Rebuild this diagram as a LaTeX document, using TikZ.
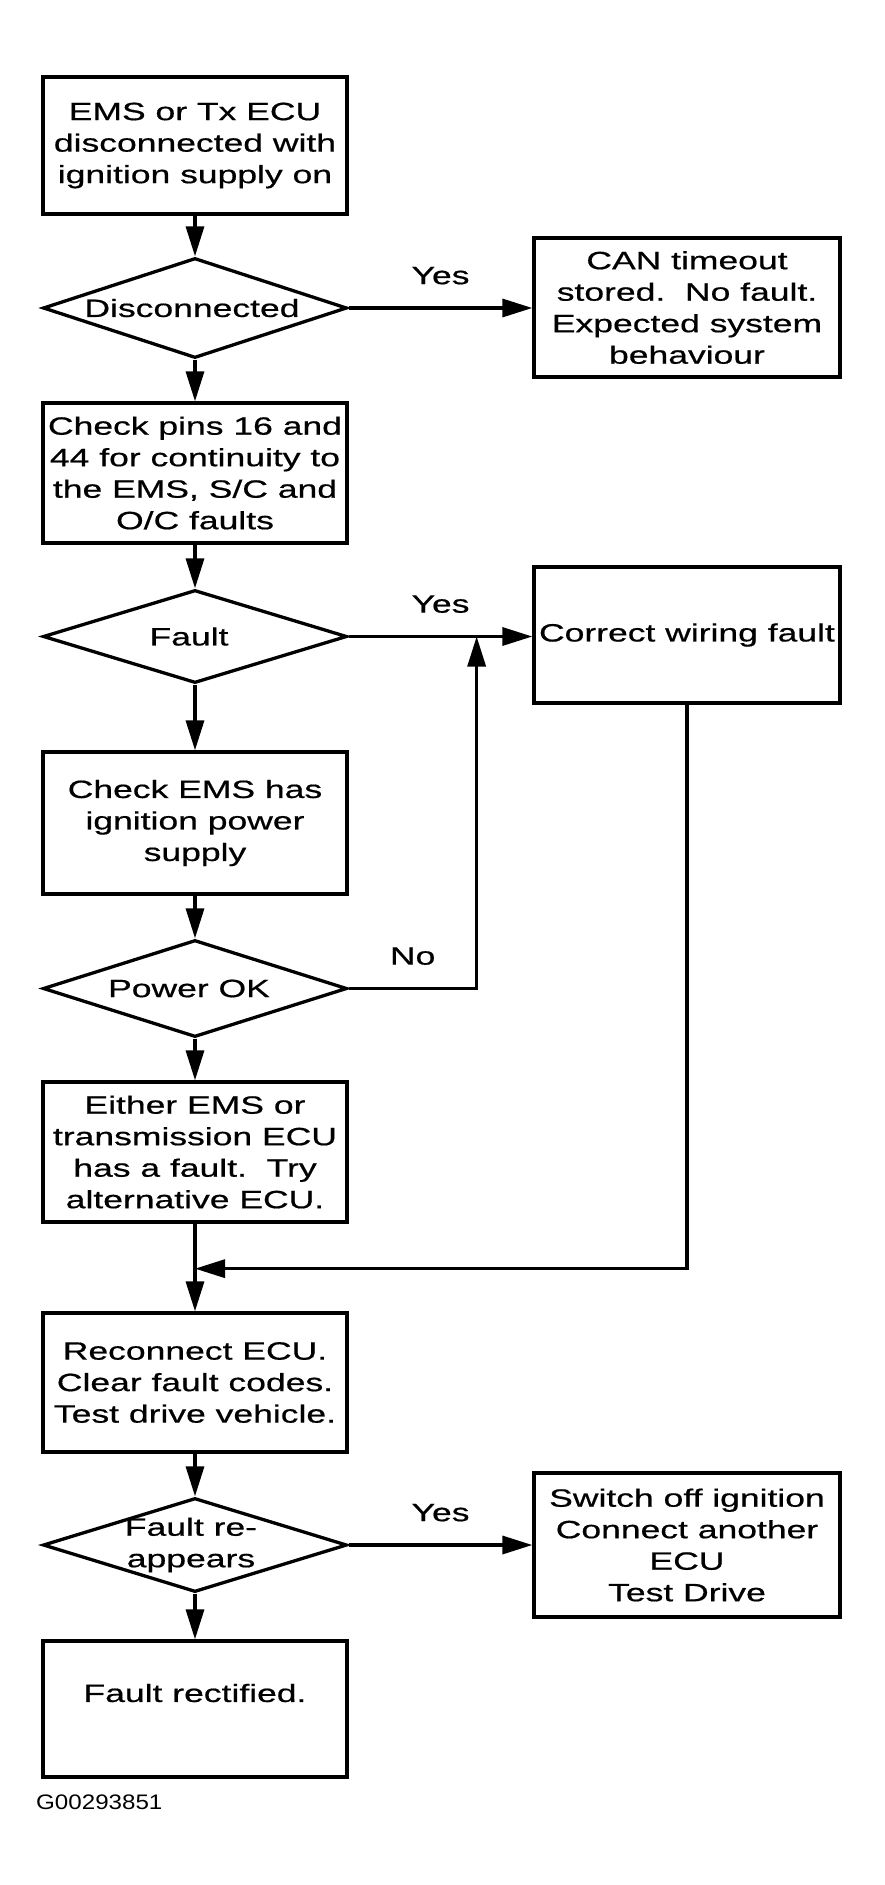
\documentclass[tikz,border=0pt]{standalone}
\usepackage{fontspec}
\setmainfont[FakeStretch=1.42,FakeBold=0.6]{Liberation Sans}
\newfontfamily\codefont[FakeStretch=1.15]{Liberation Sans}
\usetikzlibrary{arrows.meta,shapes.geometric,calc}
\tikzset{
  box/.style={draw, line width=3.3pt, minimum width=304pt, inner sep=1pt, align=center,
    font=\fontsize{25}{31.5}\selectfont},
  widebox/.style={box, minimum width=306pt},
  dia/.style={draw, diamond, line width=3.3pt, minimum width=304pt, inner sep=0pt},
  dtext/.style={align=center, inner sep=0pt, font=\fontsize{25}{31.5}\selectfont},
  lbl/.style={above=22pt, inner sep=0pt, font=\fontsize{25}{31.5}\selectfont},
  conn/.style={line width=3.3pt, -{Triangle[length=30pt,width=18pt]}},
}
\begin{document}
\begin{tikzpicture}[x=1pt,y=-1pt]
\useasboundingbox[fill=white] (0,0) rectangle (885,1885);

\node[box, minimum height=137pt] (b1) at (195,145.5) {EMS or Tx ECU\\disconnected with\\ignition supply on};
\node[dia, minimum height=100pt, label={[dtext,xshift=-3pt]center:Disconnected}] (d1) at (195,308) {};
\node[widebox, minimum height=139pt] (b2) at (687,307.5) {CAN timeout\\stored.\ \ No fault.\\Expected system\\behaviour};
\node[box, minimum height=140pt] (b3) at (195,473) {Check pins 16 and\\44 for continuity to\\the EMS, S/C and\\O/C faults};
\node[dia, minimum height=93pt, label={[dtext,xshift=-6pt]center:Fault}] (d2) at (195,636.5) {};
\node[widebox, minimum height=136pt] (b4) at (687,635) {Correct wiring fault};
\node[box, minimum height=142pt] (b5) at (195,823) {Check EMS has\\ignition power\\supply};
\node[dia, minimum height=97pt, label={[dtext,xshift=-6pt]center:Power OK}] (d3) at (195,988.5) {};
\node[box, minimum height=140pt] (b6) at (195,1152) {Either EMS or\\transmission ECU\\has a fault.\ \ Try\\alternative ECU.};
\node[box, minimum height=139pt] (b7) at (195,1382.5) {Reconnect ECU.\\Clear fault codes.\\Test drive vehicle.};
\node[dia, minimum height=94pt, label={[dtext,xshift=-4pt]center:Fault re-\\appears}] (d4) at (195,1545) {};
\node[widebox, minimum height=144pt] (b8) at (687,1545) {Switch off ignition\\Connect another\\ECU\\Test Drive};
\node[box, minimum height=136pt, label={[dtext,yshift=16pt]center:Fault rectified.}] (b9) at (195,1709) {};
\node[anchor=west, inner sep=0pt, font=\codefont\fontsize{21}{25}\selectfont] (code) at (36,1802) {G00293851};

\path (d2.east) ++(128,0) coordinate (j1);
\path (b6.south) ++(0,45) coordinate (j2);

\draw[conn] (b1) -- (d1);
\draw[conn] (d1.east) -- node[lbl]{Yes} (d1.east -| b2.west);
\draw[conn] (d1) -- (b3);
\draw[conn] (b3) -- (d2);
\draw[conn] (d2.east) -- node[lbl]{Yes} (d2.east -| b4.west);
\draw[conn] (d2) -- (b5);
\draw[conn] (b5) -- (d3);
\draw[conn] (d3.east) -- node[lbl]{No} (d3.east -| j1) -- (j1);
\draw[conn] (d3) -- (b6);
\draw[conn] (b6) -- (b7);
\draw[conn] (b4.south) -- (b4.south |- j2) -- (j2);
\draw[conn] (b7) -- (d4);
\draw[conn] (d4.east) -- node[lbl]{Yes} (d4.east -| b8.west);
\draw[conn] (d4) -- (b9);
\end{tikzpicture}
\end{document}
